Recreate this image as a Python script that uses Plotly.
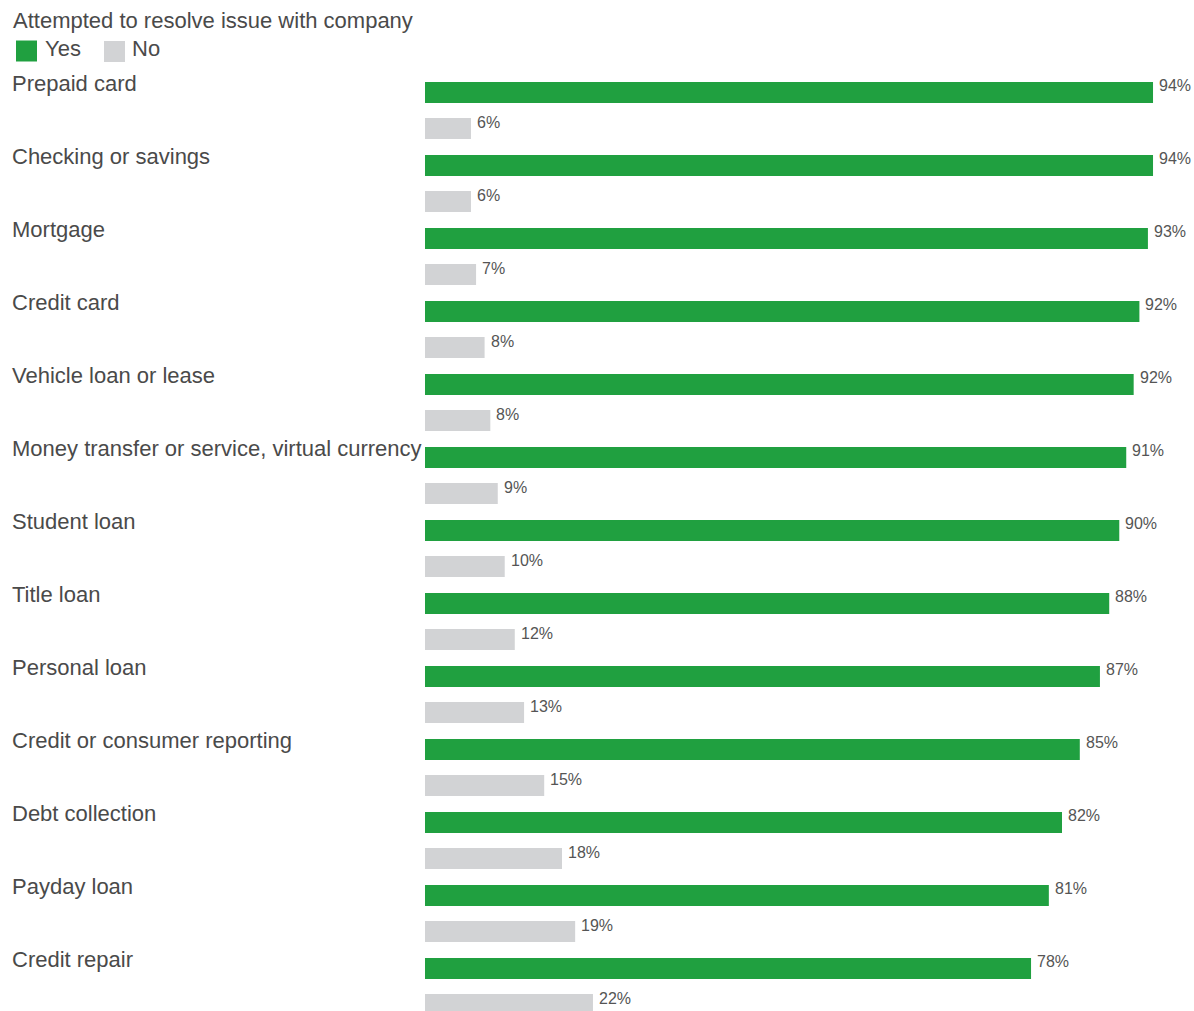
import plotly.graph_objects as go

# Share of complaints where the consumer attempted to resolve the issue with the company
products = [
    "Prepaid card",
    "Checking or savings",
    "Mortgage",
    "Credit card",
    "Vehicle loan or lease",
    "Money transfer or service, virtual currency",
    "Student loan",
    "Title loan",
    "Personal loan",
    "Credit or consumer reporting",
    "Debt collection",
    "Payday loan",
    "Credit repair",
]
yes_pct = [94.06, 94.06, 93.4, 92.3, 91.56, 90.6, 89.7, 88.4, 87.2, 84.6, 82.3, 80.6, 78.3]
no_pct = [5.94, 5.94, 6.6, 7.7, 8.44, 9.4, 10.3, 11.6, 12.8, 15.4, 17.7, 19.4, 21.7]

series_names = ["Yes", "No"]
legend_title = "Attempted to resolve issue with company"

GREEN = "#20a040"
GREY = "#d2d3d5"
LABEL_COLOR = "#4a4a4a"
VALUE_COLOR = "#555555"
FONT = "Arial, Liberation Sans, sans-serif"
LABEL_SIZE = 22

W, H = 1194, 1011
M_L, M_T = 425, 74
PLOT_W = W - M_L
PLOT_H = H - M_T
ROW_PX = 73.0


def px_x(p):
    """Horizontal pixel -> paper coordinate."""
    return (p - M_L) / PLOT_W


def px_y(p):
    """Vertical pixel (from top) -> paper coordinate."""
    return (H - p) / PLOT_H


fig = go.Figure()
fig.add_trace(go.Bar(
    y=products, x=yes_pct, name=series_names[0], orientation="h",
    marker=dict(color=GREEN, line=dict(width=0)), hoverinfo="x+y",
))
fig.add_trace(go.Bar(
    y=products, x=no_pct, name=series_names[1], orientation="h",
    marker=dict(color=GREY, line=dict(width=0)), hoverinfo="x+y",
))

annotations = []
# value labels to the right of each bar
for prod, v in zip(products, yes_pct):
    annotations.append(dict(
        x=v, y=prod, xref="x", yref="y", text=f"{v:.0f}%", showarrow=False,
        xanchor="left", yanchor="middle", xshift=4, yshift=25,
        font=dict(size=16, color=VALUE_COLOR, family=FONT),
    ))
for prod, v in zip(products, no_pct):
    annotations.append(dict(
        x=v, y=prod, xref="x", yref="y", text=f"{v:.0f}%", showarrow=False,
        xanchor="left", yanchor="middle", xshift=4, yshift=-12,
        font=dict(size=16, color=VALUE_COLOR, family=FONT),
    ))
# product names, left aligned above each pair of bars
for prod in products:
    annotations.append(dict(
        x=px_x(10), y=prod, xref="paper", yref="y", text=prod, showarrow=False,
        xanchor="left", yanchor="middle", yshift=27,
        font=dict(size=LABEL_SIZE, color=LABEL_COLOR, family=FONT),
    ))

# legend drawn by hand so the swatches match the text size
annotations.append(dict(
    x=px_x(11), y=px_y(21), xref="paper", yref="paper", text=legend_title,
    showarrow=False, xanchor="left", yanchor="middle",
    font=dict(size=LABEL_SIZE, color=LABEL_COLOR, family=FONT),
))
annotations.append(dict(
    x=px_x(43), y=px_y(49), xref="paper", yref="paper", text=series_names[0],
    showarrow=False, xanchor="left", yanchor="middle",
    font=dict(size=LABEL_SIZE, color=LABEL_COLOR, family=FONT),
))
annotations.append(dict(
    x=px_x(130), y=px_y(49), xref="paper", yref="paper", text=series_names[1],
    showarrow=False, xanchor="left", yanchor="middle",
    font=dict(size=LABEL_SIZE, color=LABEL_COLOR, family=FONT),
))
shapes = [
    dict(type="rect", xref="paper", yref="paper", x0=px_x(16), x1=px_x(37),
         y0=px_y(61.5), y1=px_y(40.5), fillcolor=GREEN, line=dict(width=0)),
    dict(type="rect", xref="paper", yref="paper", x0=px_x(104), x1=px_x(125),
         y0=px_y(62), y1=px_y(41), fillcolor=GREY, line=dict(width=0)),
]

fig.update_layout(
    width=W, height=H,
    margin=dict(l=M_L, r=0, t=M_T, b=0, pad=0),
    paper_bgcolor="white", plot_bgcolor="white",
    barmode="group", bargap=0.0137, bargroupgap=0.4167,
    showlegend=False,
    font=dict(family=FONT, color=LABEL_COLOR),
    annotations=annotations, shapes=shapes,
    xaxis=dict(range=[0, PLOT_W / 7.74], visible=False, fixedrange=True),
    yaxis=dict(
        range=[-0.5 + PLOT_H / ROW_PX, -0.5], showticklabels=False,
        showgrid=False, zeroline=False, showline=False, ticks="", fixedrange=True,
    ),
)

fig.write_html("out.html", config={"displayModeBar": False})
